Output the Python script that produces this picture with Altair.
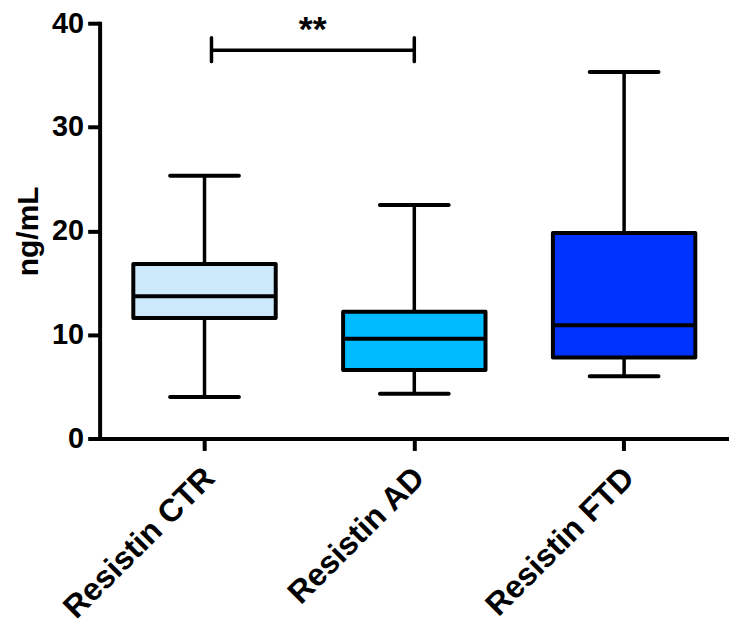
import altair as alt
import pandas as pd

categories = ["Resistin CTR", "Resistin AD", "Resistin FTD"]
mins = [4.0, 4.3, 6.0]
q1s = [11.6, 6.6, 7.8]
medians = [13.7, 9.6, 10.9]
q3s = [16.8, 12.2, 19.8]
maxs = [25.3, 22.5, 35.3]
colors = ["#cdeafd", "#00bbff", "#0033ff"]

df = pd.DataFrame({"cat": categories, "lo": mins, "q1": q1s, "med": medians,
                   "q3": q3s, "hi": maxs, "col": colors})

sig_df = pd.DataFrame({"a": ["Resistin CTR"], "b": ["Resistin AD"],
                       "y": [37.4], "ylo": [36.3], "yhi": [38.6], "label": ["**"], "ty": [38.3]})

FONT = "Liberation Sans"

xscale = alt.Scale(domain=categories, paddingInner=0, paddingOuter=0)
x_axis = alt.Axis(labelAngle=-45, labelAlign="right", labelBaseline="middle",
                  labelFont=FONT, labelFontSize=32, labelFontWeight="bold",
                  labelColor="black", labelPadding=22, labelOffset=5,
                  domainColor="black", domainWidth=4, tickColor="black",
                  tickWidth=4, tickSize=12, grid=False, labelLimit=400)
x = alt.X("cat:N", scale=xscale, title=None, axis=x_axis)
yscale = alt.Scale(domain=[0, 40], nice=False)
y_axis = alt.Axis(values=[0, 10, 20, 30, 40], labelFont=FONT, labelFontSize=29,
                  labelFontWeight="bold", labelColor="black", labelPadding=4,
                  domainColor="black", domainWidth=4, tickColor="black", tickWidth=4,
                  tickSize=12, grid=False, title="ng/mL", titleFont=FONT,
                  titleFontSize=30, titleFontWeight="bold", titleColor="black",
                  titlePadding=8)

base = alt.Chart(df)

whisk_lo = base.mark_rule(color="black", strokeWidth=3.5, opacity=1).encode(
    x=x, y=alt.Y("lo:Q", scale=yscale, axis=y_axis), y2="q1:Q")
whisk_hi = base.mark_rule(color="black", strokeWidth=3.5, opacity=1).encode(
    x=x, y=alt.Y("q3:Q", scale=yscale), y2="hi:Q")
box = base.mark_bar(size=143, stroke="black", strokeWidth=4, strokeJoin="round",
                    opacity=1).encode(
    x=x, y=alt.Y("q1:Q", scale=yscale), y2="q3:Q",
    color=alt.Color("col:N", scale=None))
med = base.mark_tick(size=143, thickness=4, color="black", opacity=1).encode(
    x=x, y=alt.Y("med:Q", scale=yscale))
cap_lo = base.mark_tick(size=73, thickness=4, color="black", opacity=1,
                        cornerRadius=2).encode(
    x=x, y=alt.Y("lo:Q", scale=yscale))
cap_hi = base.mark_tick(size=73, thickness=4, color="black", opacity=1,
                        cornerRadius=2).encode(
    x=x, y=alt.Y("hi:Q", scale=yscale))

sig = alt.Chart(sig_df)
xa = alt.X("a:N", scale=xscale, title=None)
xb = alt.X("b:N", scale=xscale, title=None)
sig_h = sig.mark_rule(color="black", strokeWidth=3.5, xOffset=7).encode(
    x=xa, x2="b:N", y=alt.Y("y:Q", scale=yscale))
sig_l = sig.mark_rule(color="black", strokeWidth=3.5, strokeCap="round", xOffset=7).encode(
    x=xa, y=alt.Y("ylo:Q", scale=yscale), y2="yhi:Q")
sig_r = sig.mark_rule(color="black", strokeWidth=3.5, strokeCap="round").encode(
    x=xb, y=alt.Y("ylo:Q", scale=yscale), y2="yhi:Q")
sig_t = sig.mark_text(font=FONT, fontSize=36, fontWeight="bold", color="black",
                      baseline="alphabetic", align="center", dx=-102).encode(
    x=xb, y=alt.Y("ty:Q", scale=yscale), text="label:N")

chart = alt.layer(whisk_lo, whisk_hi, box, med, cap_lo, cap_hi,
                  sig_h, sig_l, sig_r, sig_t).properties(
    width=632, height=417,
    autosize=alt.AutoSizeParams(type="none"),
    padding={"left": 92, "top": 14, "right": 0, "bottom": 185},
).configure_view(stroke=None).configure_axisY(domainCap="square")

chart.save("out.html", embed_options={"renderer": "svg", "actions": False})
